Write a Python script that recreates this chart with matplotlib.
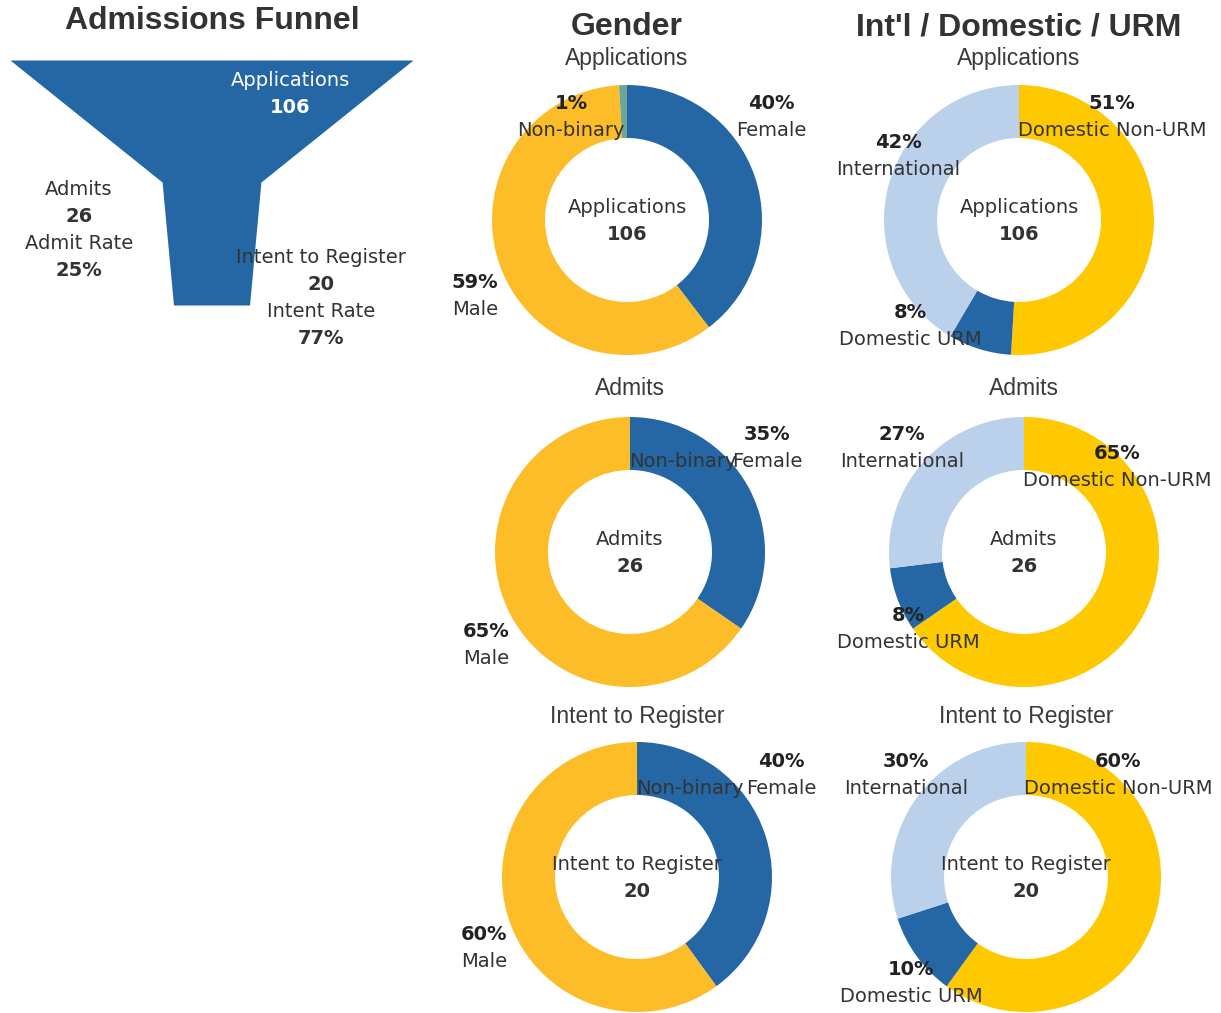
import matplotlib
matplotlib.use('Agg')
import matplotlib.pyplot as plt

# ---------------- data ----------------
stages = ['Applications', 'Admits', 'Intent to Register']
stage_counts = [106, 26, 20]

gender_cats = ['Female', 'Male', 'Non-binary']
gender_apps = [42, 63, 1]
gender_admits = [9, 17, 0]
gender_intent = [8, 12, 0]

res_cats = ['Domestic Non-URM', 'Domestic URM', 'International']
res_apps = [54, 8, 44]
res_admits = [17, 2, 7]
res_intent = [12, 2, 6]

# ---------------- style / layout ----------------
W, H = 1221, 1013
BLUE = '#2467a4'
gender_colors = [BLUE, '#fdbd29', '#6aa79a']
res_colors = ['#fec900', BLUE, '#bbd0ea']
TXT = '#333333'
LFONT = ['DejaVu Sans']
TFONT = ['Liberation Sans', 'DejaVu Sans']
LSIZE = 14
TSIZE = 23
SSIZE = 16.5

fig = plt.figure(figsize=(W / 100, H / 100), dpi=100)
fig.patch.set_facecolor('white')

R = 135
HOLE = 82


def donut(cx, cy, vals, colors):
    ax = fig.add_axes([(cx - R) / W, 1 - (cy + R) / H, 2 * R / W, 2 * R / H])
    ax.pie(vals, colors=colors, startangle=90, counterclock=False,
           wedgeprops=dict(width=(R - HOLE) / R, linewidth=0))
    ax.set_xlim(-1, 1)
    ax.set_ylim(-1, 1)
    ax.axis('off')
    return ax


# overlay axes in pixel coordinates
ov = fig.add_axes([0, 0, 1, 1], zorder=10)
ov.set_xlim(0, W)
ov.set_ylim(H, 0)
ov.axis('off')
ov.patch.set_alpha(0)

# ---------------- funnel ----------------
funnel_cx = 211.5
funnel_y = [60, 182, 305]
px_per_count = 403 / stage_counts[0]
left = [funnel_cx - c * px_per_count / 2 for c in stage_counts]
right = [funnel_cx + c * px_per_count / 2 for c in stage_counts]
ov.fill_betweenx(funnel_y, left, right, color=BLUE, linewidth=0)

ov.text(212, 21, 'Admissions Funnel', ha='center', va='center', fontsize=TSIZE,
        fontweight='bold', family=TFONT, color=TXT)

admit_rate = stage_counts[1] / stage_counts[0]
intent_rate = stage_counts[2] / stage_counts[1]


def two(x, y, a, b, top_bold=False, color=TXT, gap=27):
    ov.text(x, y, a, ha='center', va='center', fontsize=LSIZE, family=LFONT,
            color=color, fontweight='bold' if top_bold else 'normal')
    ov.text(x, y + gap, b, ha='center', va='center', fontsize=LSIZE, family=LFONT,
            color=color, fontweight='normal' if top_bold else 'bold')


two(290, 80, stages[0], f'{stage_counts[0]}', color='white')
two(79, 189, stages[1], f'{stage_counts[1]}')
two(79, 243, 'Admit Rate', f'{admit_rate:.0%}')
two(321, 257, stages[2], f'{stage_counts[2]}')
two(321, 311, 'Intent Rate', f'{intent_rate:.0%}')

# ---------------- donuts ----------------
gender_sets = [gender_apps, gender_admits, gender_intent]
res_sets = [res_apps, res_admits, res_intent]
gender_centers = [(627, 220), (630, 552), (637, 877)]
res_centers = [(1019, 220), (1024, 552), (1026, 877)]
sub_y = [58, 388, 716]

gender_label_pos = [
    [(771, 103), (475, 282), (571, 103)],
    [(767, 434), (486, 631), (683, 434)],
    [(781, 761), (484, 934), (690, 761)],
]
res_label_pos = [
    [(1112, 103), (910, 312), (898, 142)],
    [(1117, 453), (908, 615), (902, 434)],
    [(1118, 761), (911, 969), (906, 761)],
]

ov.text(627, 27, 'Gender', ha='center', va='center', fontsize=TSIZE,
        fontweight='bold', family=TFONT, color=TXT)
ov.text(1019, 27, "Int'l / Domestic / URM", ha='center', va='center', fontsize=TSIZE,
        fontweight='bold', family=TFONT, color=TXT)


def draw_group(sets, centers, cats, colors, label_pos):
    for i, vals in enumerate(sets):
        cx, cy = centers[i]
        donut(cx, cy, vals, colors)
        ov.text(cx, sub_y[i], stages[i], ha='center', va='center', fontsize=SSIZE,
                family=TFONT, color='#3a3a3a')
        two(cx, cy - 13, stages[i], f'{stage_counts[i]}')
        total = sum(vals)
        for j, v in enumerate(vals):
            x, y = label_pos[i][j]
            if v > 0:
                ov.text(x, y, f'{v / total:.0%}', ha='center', va='center',
                        fontsize=LSIZE, family=LFONT, color='#222222',
                        fontweight='bold')
            ov.text(x, y + 27, cats[j], ha='center', va='center',
                    fontsize=LSIZE, family=LFONT, color=TXT)


draw_group(gender_sets, gender_centers, gender_cats, gender_colors, gender_label_pos)
draw_group(res_sets, res_centers, res_cats, res_colors, res_label_pos)

fig.savefig('out.png', dpi=100, facecolor='white')
